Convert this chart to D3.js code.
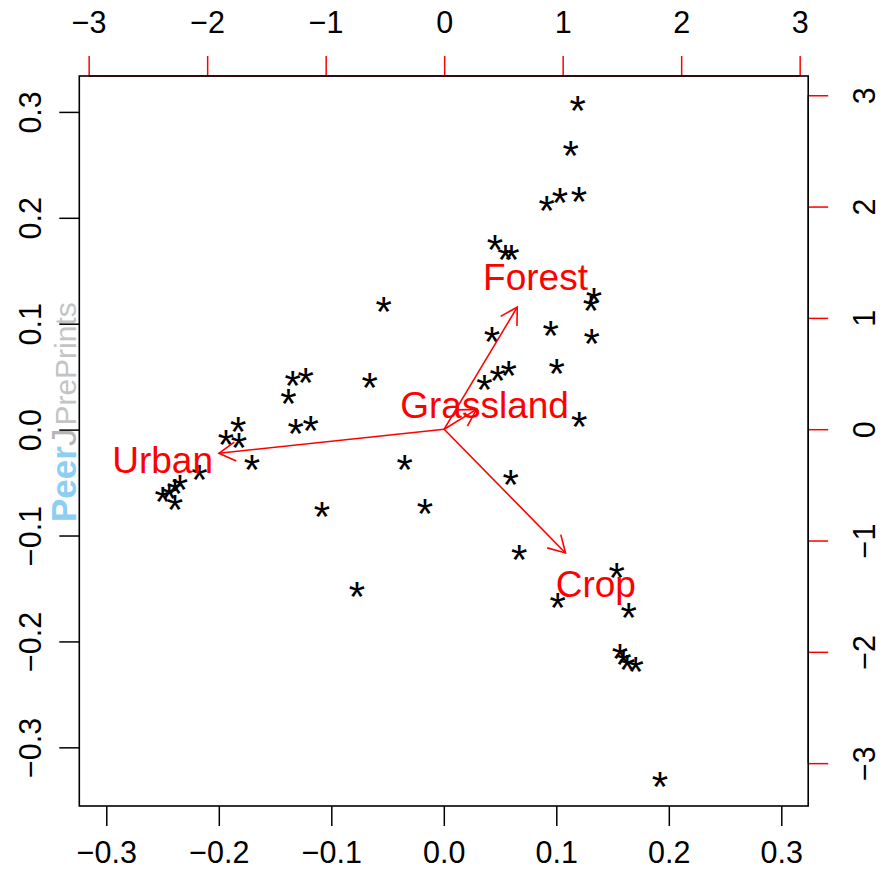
<!DOCTYPE html>
<html><head><meta charset="utf-8">
<script src="https://cdn.jsdelivr.net/npm/d3@7/dist/d3.min.js"></script>
<style>body{margin:0;background:#fff}text{font-family:"Liberation Sans",Arial,Helvetica,sans-serif}</style>
</head><body>
<svg id="chart" width="883" height="881"></svg>
<script>
// Observation scores (bottom / left axes)
const scoreX = [0.119,0.1128,0.0915,0.1033,0.1202,0.0455,0.0547,0.060,0.1335,0.1308,0.0428,0.0950,0.1315,0.1004,0.0577,0.0479,0.0360,0.1204,
  -0.0534,-0.0659,-0.1343,-0.1228,-0.1382,-0.1316,-0.1183,-0.1827,-0.1936,-0.1820,-0.1705,-0.0348,-0.1083,-0.0167,-0.0772,
  -0.2173,-0.2345,-0.2389,-0.2440,-0.2499,-0.2389,
  0.0595,0.0671,0.1537,0.1012,0.1644,0.1566,0.1596,0.1631,0.1706,0.1922];
const scoreY = [0.3074,0.2647,0.2130,0.2206,0.2215,0.1765,0.1670,0.1670,0.1264,0.1186,0.0893,0.0947,0.0877,0.0594,0.0569,0.0525,0.0443,0.0091,
  0.1177,0.0462,0.0475,0.0506,0.0311,0.0027,0.0053,0.0041,-0.0079,-0.0105,-0.0313,-0.0318,-0.0759,-0.0728,-0.1515,
  -0.0413,-0.0501,-0.0539,-0.0586,-0.0618,-0.0696,
  -0.0460,-0.1162,-0.1332,-0.1616,-0.1713,-0.2097,-0.2157,-0.2207,-0.2223,-0.3309];
const pointLabel = "*";

// Variable loadings (top / right axes)
const varNames = ["Forest","Grassland","Urban","Crop"];
const loadX = [0.771, 0.341, -2.376, 1.28];
const loadY = [1.371, 0.223, -0.270, -1.39];

const bottomTicks = [-0.3,-0.2,-0.1,0.0,0.1,0.2,0.3];
const leftTicks = [-0.3,-0.2,-0.1,0.0,0.1,0.2,0.3];
const topTicks = [-3,-2,-1,0,1,2,3];
const rightTicks = [-3,-2,-1,0,1,2,3];

const svg = d3.select("#chart");
const L = 79.3, R = 808.2, T = 76, B = 806;
const x = d3.scaleLinear().domain([-0.324, 0.3239]).range([L, R]);
const y = d3.scaleLinear().domain([-0.3554, 0.3339]).range([B, T]);
const x2 = d3.scaleLinear().domain([-3.079, 3.072]).range([L, R]);
const y2 = d3.scaleLinear().domain([-3.385, 3.173]).range([B, T]);

const tickFs = 30.5, labFs = 37, starFs = 42;
const minus = d => d3.format(".1f")(d).replace("-", "\u2212");
const minusI = d => String(d).replace("-", "\u2212");

// Watermark
const wm = svg.append("g").attr("transform", "translate(76,522) rotate(-90)");
const wt = wm.append("text").attr("x", 0).attr("y", 0);
wt.append("tspan").text("Peer").attr("font-weight", "bold").attr("font-size", 35).attr("fill", "#8ccff2");
wt.append("tspan").text("J").attr("font-size", 35).attr("fill", "#b5b5b5");
wt.append("tspan").text("PrePrints").attr("font-size", 30).attr("fill", "#c4c4c4").attr("dx", 3);

// bottom axis
const gb = svg.append("g").attr("transform", `translate(0,${B})`)
  .call(d3.axisBottom(x).tickValues(bottomTicks).tickSize(20).tickSizeOuter(0).tickFormat(minus));
// left axis
const gl = svg.append("g").attr("transform", `translate(${L},0)`)
  .call(d3.axisLeft(y).tickValues(leftTicks).tickSize(20).tickSizeOuter(0).tickFormat(minus));
// top axis
const gt = svg.append("g").attr("transform", `translate(0,${T})`)
  .call(d3.axisTop(x2).tickValues(topTicks).tickSize(20).tickSizeOuter(0).tickFormat(minusI));
// right axis
const gr = svg.append("g").attr("transform", `translate(${R},0)`)
  .call(d3.axisRight(y2).tickValues(rightTicks).tickSize(20).tickSizeOuter(0).tickFormat(minusI));

[gb, gl, gt, gr].forEach(g => {
  g.select(".domain").remove();
  g.selectAll("text").attr("font-size", tickFs).attr("fill", "#000")
    .attr("font-family", '"Liberation Sans",Arial,Helvetica,sans-serif');
  g.selectAll("line").attr("stroke-width", 1.5);
});
gt.selectAll("line").attr("stroke", "#ff0000");
gr.selectAll("line").attr("stroke", "#ff0000");
gb.selectAll("text").attr("dy", 0).attr("y", 852 - B + tickFs * 0.358);
gt.selectAll("text").attr("dy", 0).attr("y", 22 - T + tickFs * 0.358);
gl.selectAll("text").attr("dy", 0).attr("x", 0).attr("y", 0)
  .attr("text-anchor", "middle")
  .attr("transform", `translate(${30 - L + tickFs*0.358},0) rotate(-90)`);
gr.selectAll("text").attr("dy", 0).attr("x", 0).attr("y", 0)
  .attr("text-anchor", "middle")
  .attr("transform", `translate(${864 - R + tickFs*0.358},0) rotate(-90)`);
// rotate about each tick position
gl.selectAll(".tick text").attr("transform", `translate(${30 - L + tickFs*0.358},0) rotate(-90)`);

// red axis lines top/right (under box)
svg.append("line").attr("x1", x2(topTicks[0])).attr("x2", x2(topTicks[6])).attr("y1", T).attr("y2", T)
  .attr("stroke", "#ff0000").attr("stroke-width", 1.5);
svg.append("line").attr("y1", y2(rightTicks[0])).attr("y2", y2(rightTicks[6])).attr("x1", R).attr("x2", R)
  .attr("stroke", "#ff0000").attr("stroke-width", 1.5);

// points
svg.append("g").selectAll("text").data(scoreX).join("text")
  .attr("x", (d, i) => x(d))
  .attr("y", (d, i) => y(scoreY[i]) + starFs * 0.5)
  .attr("text-anchor", "middle").attr("font-size", starFs).attr("fill", "#000")
  .text(pointLabel);

// arrows
const ox = x2(0), oy = y2(0);
const ag = svg.append("g").attr("stroke", "#ff0000").attr("stroke-width", 1.6).attr("fill", "none");
varNames.forEach((n, i) => {
  const tx = x2(loadX[i] * 0.8), ty = y2(loadY[i] * 0.8);
  ag.append("line").attr("x1", ox).attr("y1", oy).attr("x2", tx).attr("y2", ty);
  const ang = Math.atan2(ty - oy, tx - ox), len = 19, a = Math.PI / 6;
  ag.append("path").attr("d",
    `M${tx - len*Math.cos(ang - a)},${ty - len*Math.sin(ang - a)}L${tx},${ty}L${tx - len*Math.cos(ang + a)},${ty - len*Math.sin(ang + a)}`);
});
svg.append("g").selectAll("text").data(varNames).join("text")
  .attr("x", (d, i) => x2(loadX[i]))
  .attr("y", (d, i) => y2(loadY[i]) + labFs * 0.358)
  .attr("text-anchor", "middle").attr("font-size", labFs).attr("fill", "#ff0000")
  .text(d => d);

// box
svg.append("rect").attr("x", L).attr("y", T).attr("width", R - L).attr("height", B - T)
  .attr("fill", "none").attr("stroke", "#000").attr("stroke-width", 1.6);
</script>
</body></html>
